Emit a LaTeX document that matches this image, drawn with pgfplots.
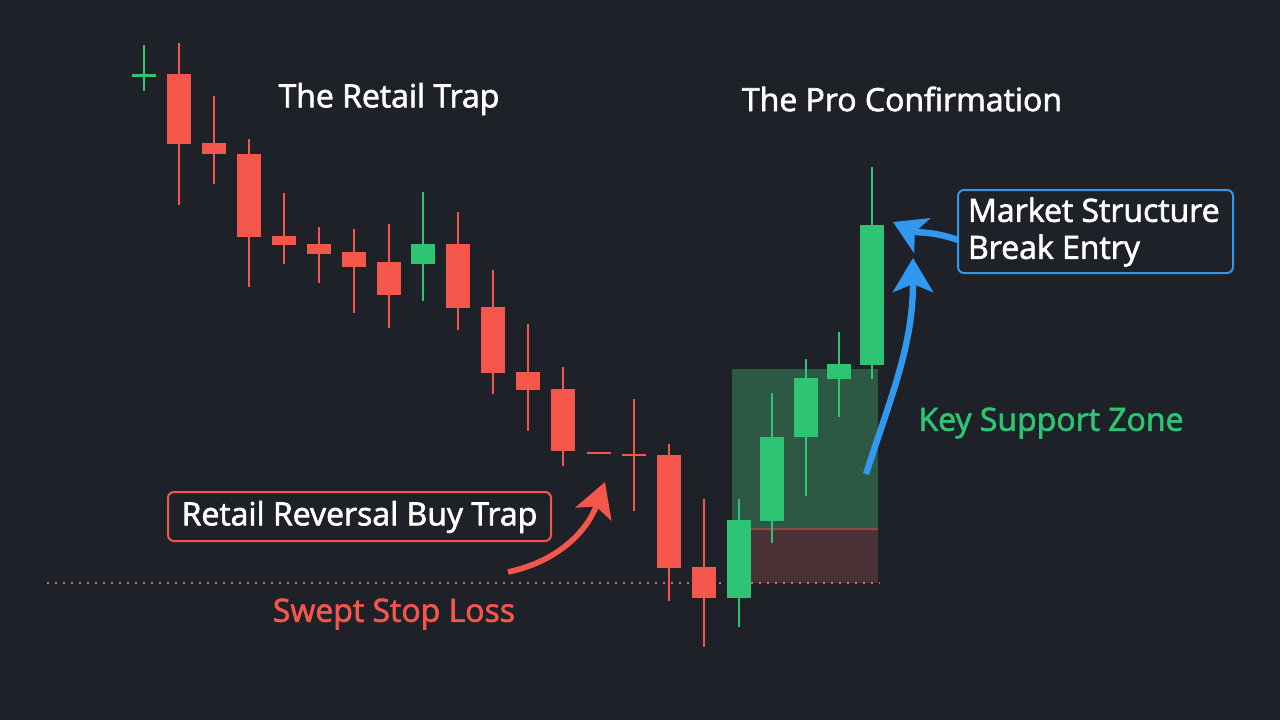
\documentclass[border=0pt]{standalone}
\usepackage{fontspec}
\setmainfont{Open Sans}[FakeBold=2]
\usepackage{pgfplots}
\pgfplotsset{compat=1.18}
\usetikzlibrary{arrows.meta}
\definecolor{bg}{HTML}{1F2128}
\definecolor{cred}{HTML}{F4564C}
\definecolor{cgreen}{HTML}{2DC573}
\definecolor{cblue}{HTML}{3098EE}
\definecolor{zgreen}{HTML}{2C5844}
\definecolor{zred}{HTML}{4B3237}
\definecolor{dotred}{HTML}{E0675F}
\begin{document}
\begin{tikzpicture}
\fill[bg] (0,0) rectangle (640pt,360pt);
\begin{axis}[width=640pt,height=360pt,scale only axis,hide axis,
  xmin=0,xmax=1280,ymin=0,ymax=720,y dir=reverse,clip=false,
  every axis plot/.append style={draw=none,no markers,forget plot}]
% support zone
\fill[zgreen] (axis cs:732,369) rectangle (axis cs:878,529);
\fill[zred] (axis cs:732,529) rectangle (axis cs:878,583);
\draw[color=dotred!45!zred,line width=0.8pt] (axis cs:732,529) -- (axis cs:878,529);
% stop loss line
\draw[dotred,line width=1.1pt,dash pattern=on 1.1pt off 2.9pt] (axis cs:47,583) -- (axis cs:880,583);
% red wicks
\addplot[error bars/.cd,y dir=both,y explicit,error mark=none,
  error bar style={draw=cred,line width=1pt}] coordinates {
 (179,124) +- (0,81)
 (214,140) +- (0,44)
 (249,213) +- (0,74)
 (284,228.5) +- (0,35.5)
 (319,255) +- (0,28)
 (354,271) +- (0,42)
 (389,276) +- (0,52)
 (458,271) +- (0,59)
 (493,332) +- (0,62)
 (528,377.5) +- (0,53.5)
 (563,416.5) +- (0,49.5)
 (634,455) +- (0,56)
 (669,522.5) +- (0,78.5)
 (704,573) +- (0,74)
};
% red bodies
\addplot[error bars/.cd,y dir=both,y explicit,error mark=none,
  error bar style={draw=cred,line width=12pt}] coordinates {
 (179,109) +- (0,35)
 (214,148.5) +- (0,5.5)
 (249,195.5) +- (0,41.5)
 (284,240.5) +- (0,4.5)
 (319,249) +- (0,5)
 (354,259.5) +- (0,7.5)
 (389,278.5) +- (0,16.5)
 (458,276) +- (0,32)
 (493,340) +- (0,33)
 (528,381) +- (0,9)
 (563,420) +- (0,31)
 (599,453) +- (0,1.3)
 (634,455) +- (0,1.3)
 (669,511.5) +- (0,56.5)
 (704,582.5) +- (0,15.5)
};
% green wicks
\addplot[error bars/.cd,y dir=both,y explicit,error mark=none,
  error bar style={draw=cgreen,line width=1pt}] coordinates {
 (144,68) +- (0,23)
 (423,246.5) +- (0,54.5)
 (739,563) +- (0,64)
 (772,468) +- (0,75)
 (806,427.5) +- (0,68.5)
 (839,374.5) +- (0,42.5)
 (872,273) +- (0,106)
};
% green bodies
\addplot[error bars/.cd,y dir=both,y explicit,error mark=none,
  error bar style={draw=cgreen,line width=12pt}] coordinates {
 (144,75.5) +- (0,1.3)
 (423,254) +- (0,10)
 (739,559) +- (0,39)
 (772,479) +- (0,42)
 (806,407.5) +- (0,29.5)
 (839,371.5) +- (0,7.5)
 (872,295) +- (0,70)
};
% titles
\node[white,font=\fontsize{16}{18}\selectfont] at (axis cs:389,99) {The Retail Trap};
\node[white,font=\fontsize{16}{18}\selectfont] at (axis cs:902,99) {The Pro Confirmation};
% blue box
\draw[cblue,line width=1pt,fill=bg,rounded corners=3pt] (axis cs:958,190) rectangle (axis cs:1233,273);
\node[white,anchor=west,align=left,font=\fontsize{16}{18.5}\selectfont] at (axis cs:961,232) {Market Structure\\Break Entry};
% red box
\draw[cred,line width=1pt,fill=bg,rounded corners=3pt] (axis cs:168,492) rectangle (axis cs:551,541);
\node[white,font=\fontsize{16}{18}\selectfont] at (axis cs:359.5,517) {Retail Reversal Buy Trap};
% other labels
\node[cgreen,font=\fontsize{16}{18}\selectfont] at (axis cs:1051,423) {Key Support Zone};
\node[cred,font=\fontsize{16}{18}\selectfont] at (axis cs:394,614) {Swept Stop Loss};
% arrows
\draw[cred,line width=2.8pt,-{Stealth[length=17pt,width=19pt,inset=4pt]}] (axis cs:508,572) to[out=12,in=250] (axis cs:605,482);
\draw[cblue,line width=3.2pt,-{Stealth[length=16pt,width=19pt,inset=4pt]}] (axis cs:958,240) to[out=160,in=-25] (axis cs:893,222);
\draw[cblue,line width=3.2pt,-{Stealth[length=17pt,width=20pt,inset=4pt]}] (axis cs:866,474) to[out=72,in=-90] (axis cs:913,258);
\end{axis}
\end{tikzpicture}
\end{document}
